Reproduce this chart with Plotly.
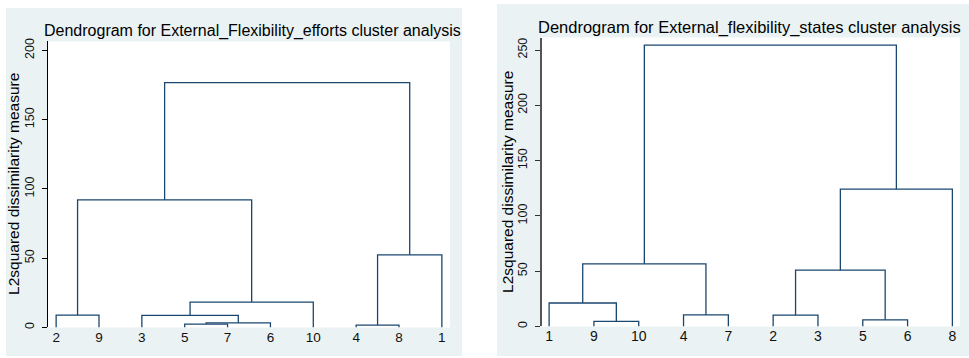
import plotly.graph_objects as go

W, H = 969, 358

# ---------------- data ----------------
left_title = "Dendrogram for External_Flexibility_efforts cluster analysis"
right_title = "Dendrogram for External_flexibility_states cluster analysis"
y_title = "L2squared dissimilarity measure"

left_leaves = ["2", "9", "3", "5", "7", "6", "10", "4", "8", "1"]
left_merge_a = ["2", "5", "c1", "3", "c3", "c0", "4", "c6", "c5"]
left_merge_b = ["9", "7", "6", "c2", "10", "c4", "8", "1", "c7"]
left_heights = [8.8, 2.4, 3.3, 8.7, 18.3, 92.0, 1.7, 52.4, 176.7]
left_yticks = [0, 50, 100, 150, 200]

right_leaves = ["1", "9", "10", "4", "7", "2", "3", "5", "6", "8"]
right_merge_a = ["9", "1", "4", "c1", "2", "5", "c4", "c6", "c3"]
right_merge_b = ["10", "c0", "7", "c2", "3", "6", "c5", "8", "c7"]
right_heights = [4.5, 21.2, 10.4, 56.6, 10.2, 6.0, 50.9, 124.1, 254.5]
right_yticks = [0, 50, 100, 150, 200, 250]

NAVY = "#1A476F"
BG = "#EAF2F3"
FONT = "Liberation Sans, Arial, sans-serif"


def dendro_lines(leaves, ma, mb, hs):
    nodes = {lab: (i + 1, 0.0) for i, lab in enumerate(leaves)}
    xs, ys = [], []
    for i, (a, b, h) in enumerate(zip(ma, mb, hs)):
        xa, ha = nodes[a]
        xb, hb = nodes[b]
        xs += [xa, xa, xb, xb, None]
        ys += [ha, h, h, hb, None]
        nodes[f"c{i}"] = ((xa + xb) / 2, h)
    return xs, ys


def px(x):
    return x / W


def py(y):
    return 1 - y / H


fig = go.Figure()

lx, ly = dendro_lines(left_leaves, left_merge_a, left_merge_b, left_heights)
rx, ry = dendro_lines(right_leaves, right_merge_a, right_merge_b, right_heights)

fig.add_trace(go.Scatter(x=lx, y=ly, mode="lines", line=dict(color=NAVY, width=1.3),
                         xaxis="x", yaxis="y", hoverinfo="skip", showlegend=False))
fig.add_trace(go.Scatter(x=rx, y=ry, mode="lines", line=dict(color=NAVY, width=1.3),
                         xaxis="x2", yaxis="y2", hoverinfo="skip", showlegend=False))

# panel geometry (pixels)
L_plot = (48, 450, 39, 329)
R_plot = (541.5, 960, 35, 328)

shapes = [
    dict(type="rect", xref="paper", yref="paper", x0=px(6), x1=px(462), y0=py(358), y1=py(5),
         fillcolor=BG, line=dict(width=0), layer="below"),
    dict(type="rect", xref="paper", yref="paper", x0=px(497), x1=px(969), y0=py(358), y1=py(1),
         fillcolor=BG, line=dict(width=0), layer="below"),
    dict(type="rect", xref="paper", yref="paper", x0=px(L_plot[0]), x1=px(L_plot[1]),
         y0=py(L_plot[3]), y1=py(L_plot[2]), fillcolor="white", line=dict(width=0), layer="below"),
    dict(type="rect", xref="paper", yref="paper", x0=px(R_plot[0]), x1=px(R_plot[1]),
         y0=py(R_plot[3]), y1=py(R_plot[2]), fillcolor="white", line=dict(width=0), layer="below"),
]

xcommon = dict(showgrid=False, zeroline=False, showline=False, ticks="", fixedrange=True)
ycommon = dict(showgrid=False, zeroline=False, showline=True, ticks="outside", ticklen=5,
               tickangle=-90, fixedrange=True, ticklabelstandoff=3)

fig.update_layout(
    width=W, height=H, autosize=False,
    margin=dict(l=0, r=0, t=0, b=0),
    paper_bgcolor="white", plot_bgcolor="rgba(0,0,0,0)",
    font=dict(family=FONT, color="black"),
    showlegend=False,
    shapes=shapes,
    xaxis=dict(domain=[px(L_plot[0]), px(L_plot[1])], range=[0.81, 10.19], anchor="y",
               tickmode="array", tickvals=list(range(1, 11)), ticktext=left_leaves,
               tickfont=dict(size=13.5, color="#111"), **xcommon),
    yaxis=dict(domain=[py(L_plot[3]), py(L_plot[2])], range=[0, 206.4], anchor="x",
               tickmode="array", tickvals=left_yticks, ticktext=[str(v) for v in left_yticks],
               tickfont=dict(size=12.5, color="#111"), linecolor="black", linewidth=1,
               tickcolor="black", tickwidth=1, **ycommon),
    xaxis2=dict(domain=[px(R_plot[0]), px(R_plot[1])], range=[0.83, 10.17], anchor="y2",
                tickmode="array", tickvals=list(range(1, 11)), ticktext=right_leaves,
                tickfont=dict(size=14, color="#111"), **xcommon),
    yaxis2=dict(domain=[py(R_plot[3]), py(R_plot[2])], range=[0, 261.3], anchor="x2",
                tickmode="array", tickvals=right_yticks, ticktext=[str(v) for v in right_yticks],
                tickfont=dict(size=12.5, color="#111"), linecolor="#555", linewidth=1.6,
                tickcolor="#333", tickwidth=1, **ycommon),
    annotations=[
        dict(text=left_title, xref="paper", yref="paper", x=px(42), y=py(28.5),
             xanchor="left", yanchor="middle", showarrow=False, font=dict(size=16, color="black")),
        dict(text=right_title, xref="paper", yref="paper", x=px(536), y=py(24.5),
             xanchor="left", yanchor="middle", showarrow=False, font=dict(size=16.5, color="black")),
        dict(text=y_title, xref="paper", yref="paper", x=px(13.5), y=py(184),
             xanchor="center", yanchor="middle", textangle=-90, showarrow=False,
             font=dict(size=15.5, color="black")),
        dict(text=y_title, xref="paper", yref="paper", x=px(508), y=py(181.5),
             xanchor="center", yanchor="middle", textangle=-90, showarrow=False,
             font=dict(size=15.5, color="black")),
    ],
)

fig.write_html("out.html", config={"displayModeBar": False},
               post_script="document.body.style.margin='0';document.body.style.overflow='hidden';")
